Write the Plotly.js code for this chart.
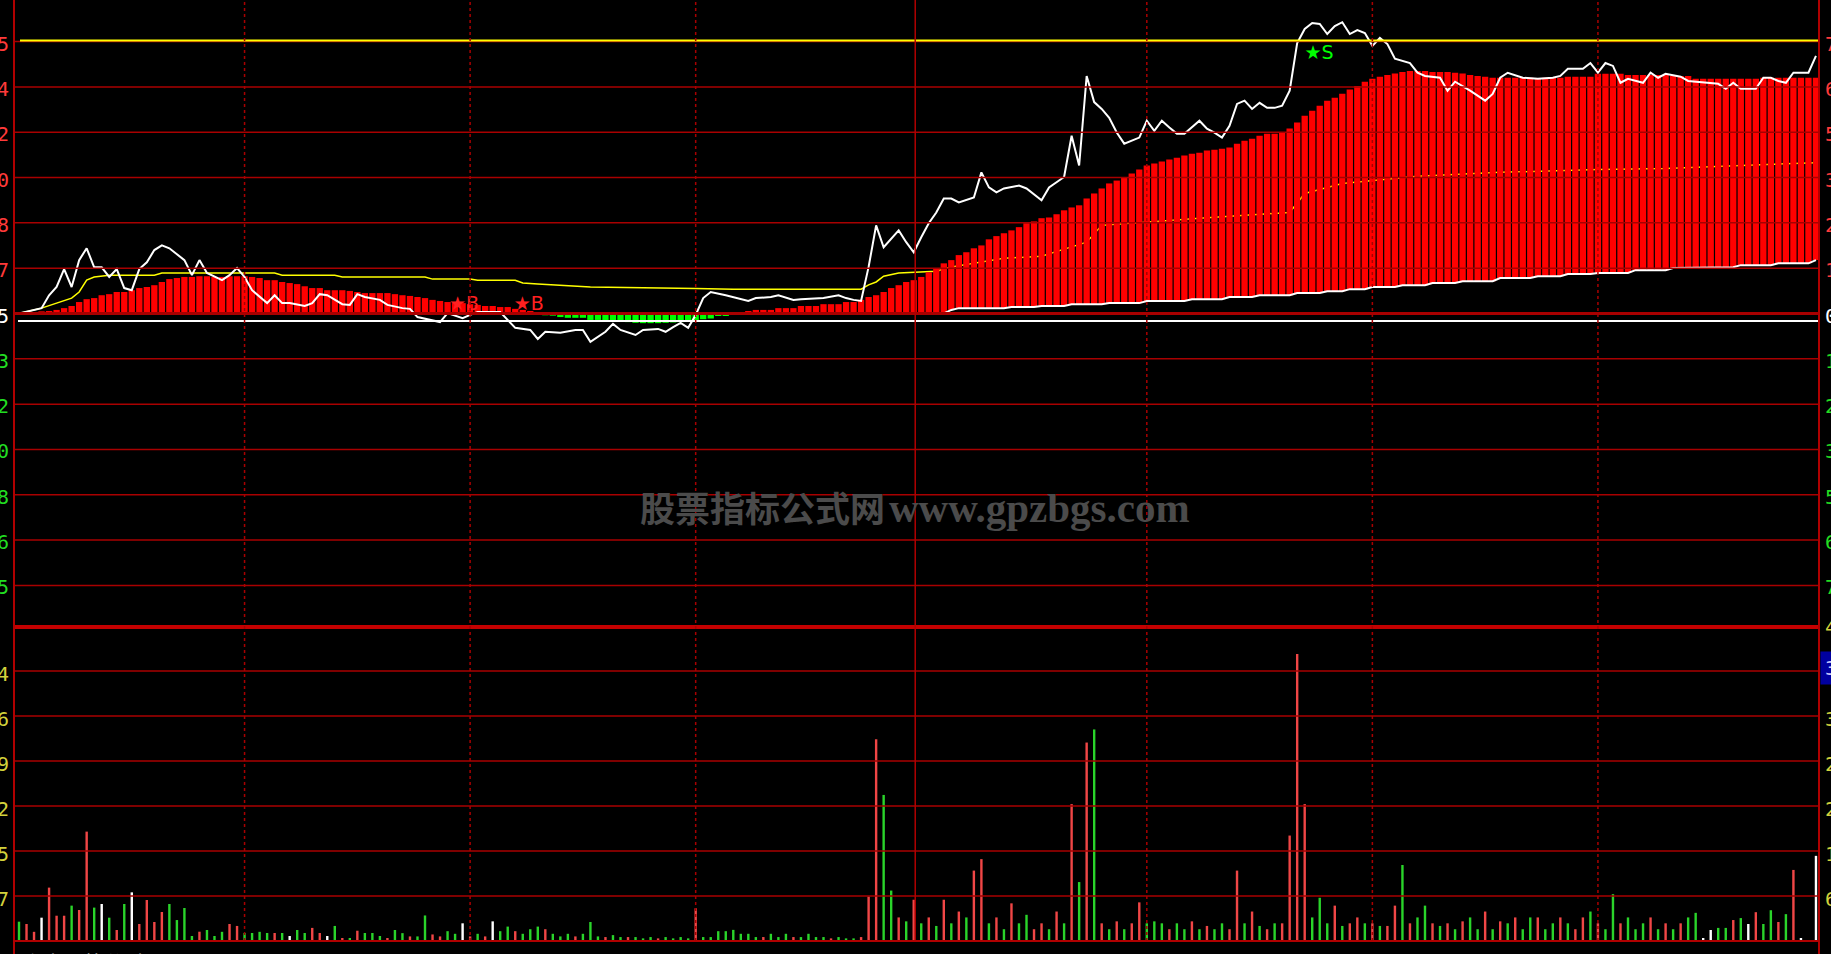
<!DOCTYPE html>
<html><head><meta charset="utf-8">
<script src="https://cdn.plot.ly/plotly-3.0.1.min.js"></script>
<style>html,body{margin:0;padding:0;background:#000;overflow:hidden}#chart{width:1831px;height:954px}</style>
</head><body><div id="chart"></div>
<script>
// ---------- data (percent change vs previous close 9.25; minute index 0..239) ----------
const priceMinutes = [0,2,3,4,5,6,7,8,9,10,11,12,13,14,15,16,17,18,19,20,22,23,24,25,27,28,29,30,31,33,34,35,36,38,39,40,41,43,44,45,46,48,49,51,52,53,56,57,59,60,61,64,66,68,69,70,72,74,75,76,78,79,80,82,83,85,86,87,88,89,90,91,92,94,95,97,98,100,101,103,104,107,109,110,111,112,113,114,115,116,117,118,119,120,121,122,123,124,125,127,128,129,130,131,133,134,136,137,138,139,140,141,142,143,144,145,146,147,149,150,151,152,153,154,155,156,157,158,159,160,161,162,163,164,165,166,167,168,169,170,171,172,173,174,175,176,177,178,179,180,181,182,183,185,186,187,189,190,191,193,195,196,197,198,200,202,204,205,206,208,209,210,211,212,213,214,216,217,218,219,221,222,224,226,227,228,229,231,232,233,234,235,236,238,239];
const pricePct = [0.00,0.10,0.15,0.51,0.74,1.24,0.74,1.49,1.82,1.29,1.29,1.02,1.24,0.71,0.65,1.24,1.43,1.77,1.90,1.82,1.49,1.07,1.49,1.13,0.93,1.07,1.27,1.02,0.65,0.29,0.51,0.29,0.29,0.21,0.29,0.54,0.51,0.26,0.24,0.54,0.46,0.38,0.24,0.15,0.13,-0.10,-0.24,0.01,-0.13,-0.04,0.04,0.04,-0.40,-0.46,-0.71,-0.51,-0.54,-0.46,-0.46,-0.79,-0.51,-0.29,-0.46,-0.60,-0.46,-0.43,-0.51,-0.38,-0.26,-0.40,-0.04,0.43,0.60,0.51,0.46,0.35,0.43,0.46,0.51,0.38,0.40,0.43,0.51,0.43,0.38,0.35,1.30,2.46,1.85,2.10,2.32,1.99,1.71,2.13,2.52,2.82,3.21,3.21,3.10,3.24,3.94,3.52,3.38,3.49,3.57,3.49,3.16,3.52,3.67,3.81,4.96,4.13,6.63,5.90,5.71,5.46,5.05,4.74,4.91,5.38,5.10,5.38,5.19,5.02,5.02,5.19,5.38,5.16,5.05,4.91,5.24,5.85,5.94,5.71,5.88,5.74,5.74,5.80,6.22,7.55,7.94,8.11,8.08,7.80,8.02,8.13,7.80,7.91,7.83,7.47,7.69,7.52,7.11,6.99,6.72,6.63,6.58,6.22,6.47,6.22,5.94,6.13,6.58,6.72,6.58,6.55,6.58,6.63,6.83,6.83,6.99,6.72,6.99,6.91,6.44,6.55,6.44,6.72,6.58,6.69,6.61,6.49,6.44,6.41,6.27,6.44,6.27,6.27,6.58,6.58,6.49,6.44,6.72,6.72,7.19];

const avgMinutes = [0,3,5,7,8,9,10,12,18,19,34,35,42,43,54,55,60,61,66,67,69,76,90,95,112,113,114,115,117,122,124,127,131,136,140,142,144,157,169,170,171,176,186,197,210,219,230,239];
const avgPct = [0.00,0.15,0.29,0.43,0.60,0.93,1.02,1.07,1.07,1.13,1.13,1.07,1.07,1.02,1.02,0.96,0.96,0.93,0.93,0.85,0.82,0.74,0.70,0.68,0.68,0.80,0.88,1.04,1.13,1.18,1.30,1.41,1.54,1.60,1.85,1.99,2.46,2.66,2.82,3.10,3.35,3.63,3.83,3.94,4.02,4.05,4.13,4.21];

const barTop = [
 0.00,0.04,0.04,0.06,0.07,0.10,0.15,0.21,0.32,0.40,
 0.43,0.51,0.54,0.60,0.60,0.65,0.71,0.74,0.79,0.88,
 0.96,0.99,1.02,1.02,1.04,1.04,1.02,1.02,1.04,1.04,
 1.04,1.02,0.99,0.93,0.93,0.88,0.85,0.82,0.76,0.71,
 0.71,0.65,0.65,0.65,0.63,0.60,0.57,0.57,0.57,0.57,
 0.54,0.51,0.49,0.46,0.43,0.38,0.35,0.32,0.29,0.29,
 0.26,0.24,0.21,0.21,0.18,0.18,0.13,0.10,0.07,0.04,
 -0.05,-0.06,-0.10,-0.12,-0.12,-0.12,-0.18,-0.18,-0.20,-0.22,
 -0.22,-0.24,-0.26,-0.27,-0.27,-0.27,-0.26,-0.25,-0.24,-0.22,
 -0.18,-0.16,-0.14,-0.07,-0.07,-0.02,-0.02,0.07,0.10,0.10,
 0.10,0.15,0.15,0.15,0.21,0.21,0.21,0.26,0.26,0.26,
 0.32,0.32,0.38,0.46,0.51,0.60,0.71,0.79,0.88,0.93,
 1.02,1.15,1.27,1.40,1.49,1.63,1.71,1.82,1.90,2.07,
 2.16,2.24,2.32,2.41,2.52,2.57,2.66,2.68,2.77,2.88,
 2.96,3.02,3.21,3.35,3.49,3.63,3.71,3.80,3.91,4.02,
 4.13,4.19,4.24,4.30,4.35,4.41,4.46,4.49,4.55,4.57,
 4.60,4.63,4.74,4.82,4.88,4.96,5.02,5.02,5.05,5.16,
 5.33,5.52,5.66,5.80,5.94,6.02,6.13,6.25,6.35,6.47,
 6.55,6.61,6.66,6.70,6.74,6.77,6.77,6.77,6.74,6.74,
 6.74,6.72,6.70,6.66,6.63,6.61,6.58,6.58,6.58,6.58,
 6.58,6.58,6.55,6.58,6.58,6.58,6.61,6.61,6.61,6.61,
 6.69,6.69,6.69,6.69,6.66,6.66,6.66,6.66,6.66,6.66,
 6.63,6.63,6.63,6.55,6.55,6.55,6.55,6.55,6.55,6.55,
 6.55,6.55,6.58,6.58,6.58,6.58,6.58,6.58,6.58,6.58];

const barBase = [
 0,0,0,0,0,0,0,0,0,0, 0,0,0,0,0,0,0,0,0,0,
 0,0,0,0,0,0,0,0,0,0, 0,0,0,0,0,0,0,0,0,0,
 0,0,0,0,0,0,0,0,0,0, 0,0,0,0,0,0,0,0,0,0,
 0,0,0,0,0,0,0,0,0,0, 0,0,0,0,0,0,0,0,0,0,
 0,0,0,0,0,0,0,0,0,0, 0,0,0,0,0,0,0,0,0,0,
 0,0,0,0,0,0,0,0,0,0, 0,0,0,0,0,0,0,0,0,0,
 0,0,0,0,0.10,0.15,0.15,0.15,0.15,0.15,
 0.15,0.15,0.18,0.18,0.18,0.18,0.21,0.21,0.21,0.21,
 0.26,0.26,0.26,0.26,0.26,0.29,0.29,0.29,0.29,0.29,
 0.35,0.35,0.35,0.35,0.35,0.35,0.40,0.40,0.40,0.40,
 0.40,0.46,0.46,0.46,0.46,0.51,0.51,0.51,0.51,0.51,
 0.57,0.57,0.57,0.57,0.62,0.62,0.62,0.68,0.68,0.68,
 0.74,0.74,0.74,0.74,0.79,0.79,0.79,0.79,0.85,0.85,
 0.85,0.85,0.90,0.90,0.90,0.90,0.90,0.99,0.99,0.99,
 0.99,0.99,1.04,1.04,1.04,1.04,1.10,1.10,1.10,1.10,
 1.13,1.13,1.13,1.13,1.13,1.21,1.21,1.21,1.21,1.21,
 1.27,1.27,1.27,1.27,1.29,1.29,1.29,1.29,1.29,1.35,
 1.35,1.35,1.35,1.35,1.40,1.40,1.40,1.40,1.40,1.49];
const baseLineStart = 112;

const volume = [
 295,260,140,356,815,386,386,540,473,1670,
 510,565,356,168,565,743,260,626,290,443,
 565,320,504,76,142,168,76,140,260,230,
 122,122,140,122,122,122,76,168,122,200,
 122,76,230,46,46,157,122,122,76,46,
 168,120,70,70,390,100,70,150,110,270,
 70,110,70,300,150,220,150,110,180,220,
 180,110,70,110,70,110,290,70,60,90,
 60,60,60,40,60,40,60,40,60,40,
 500,60,60,150,150,170,110,110,60,60,
 110,60,110,60,60,110,60,60,40,60,
 40,40,60,680,3080,2230,770,360,300,630,
 270,360,230,630,270,450,360,1075,1250,270,
 360,180,575,270,400,180,270,180,450,270,
 2090,900,3030,3230,270,180,300,180,270,590,
 270,300,270,180,270,180,300,180,230,180,
 270,180,1075,270,450,230,180,270,270,1610,
 4380,2090,360,660,270,540,230,270,360,270,
 270,230,230,540,1160,270,360,540,270,230,
 270,180,300,360,180,450,180,300,270,360,
 180,360,360,180,270,360,270,180,360,450,
 270,180,715,270,360,180,270,360,180,270,
 180,270,360,430,46,168,200,200,320,350,
 260,440,260,470,290,410,1085,46,0,1300];
// r = up minute, g = down minute, w = unchanged
const volumeSide = [
 "grrwrrrgrr","gwgrgwrrrr","ggggrgggrr","ggggrgwggr","rwgrgrgggr",
 "ggrggrrggw","rgrwggrggg","rgggrgggrg","grgggrgggg","rggggggggr",
 "gggrggggrg","ggrrrggrgr","grgrgrgrrg","rgrggrrgrg","rgrgrgrgrr",
 "gggrggrgrg","grrgrgrgrr","rrgggrgrrg","rgrrgrggrg","rgrggrgrgr",
 "ggrggrgrrg","rggrgggrgr","grggwwggrg","wrggrgrwww"].join("").split("");

const signalMinutes = [59.2, 67.8, 172.9];
const signalPct = [0.24, 0.24, 7.23];
const signalText = ["★B", "★B", "★S"];

// axis / label tables
const pctStep = 1.265;
const gridSteps = [6,5,4,3,2,1,0,-1,-2,-3,-4,-5,-6];
const leftPriceLabels = ["9.95","9.84","9.72","9.60","9.48","9.37","9.25","9.13","9.02","8.90","8.78","8.66","8.55"];
const rightPctLabels = ["7.59%","6.32%","5.06%","3.79%","2.53%","1.26%","0.00%","1.26%","2.53%","3.79%","5.06%","6.32%","7.59%"];
const topRightLabel = "8.85%";
const highLinePct = 7.62;
const fixedWhitePct = -0.21;
const volGrid = [4124,3436,2749,2062,1375,687];
const volLeftLabels = ["4124","3436","2749","2062","1375","687"];
const volRightLabels = ["","3436","2749","2062","1375","687"];
const volTopRightLabel = "4810";
const volCursorLabel = "3086";
const timeGrid = [30,60,90,150,180,210];
const middayGrid = 119.2;
const watermarkCn = "股票指标公式网";
const watermarkEn = "www.gpzbgs.com";
const footerText = "主力明箭分时";

// ---------- geometry helpers ----------
const W = 1831, H = 954;
const px = v => v / W, py = v => 1 - v / H;
const minutes = barTop.map((_, i) => i);

const RED = "#ff0000", GREEN = "#00ff00";
const GRID = "#a80000";
const volColors = {r: "#f04646", g: "#2ad42a", w: "#ffffff"};

const traces = [
  {x: avgMinutes, y: avgPct, type: "scatter", mode: "lines", yaxis: "y",
   line: {color: "#ffff00", width: 1.5}, hoverinfo: "skip"},
  {x: minutes, y: barTop.map((t, i) => t - barBase[i]), base: barBase, type: "bar", yaxis: "y3",
   width: 0.84, marker: {color: barTop.map(t => t >= 0 ? RED : GREEN), line: {width: 0}}, hoverinfo: "skip"},
  {x: minutes.slice(baseLineStart), y: barBase.slice(baseLineStart), type: "scatter", mode: "lines", yaxis: "y3",
   line: {color: "#ffffff", width: 2}, hoverinfo: "skip"},
  {x: priceMinutes, y: pricePct, type: "scatter", mode: "lines", yaxis: "y3",
   line: {color: "#ffffff", width: 2}, hoverinfo: "skip"},
  {x: signalMinutes, y: signalPct, text: signalText, type: "scatter", mode: "text", yaxis: "y3",
   textposition: "middle center",
   textfont: {family: "DejaVu Sans", size: 19, color: signalText.map(t => t.includes("S") ? "#00ff00" : "#ff2020")},
   hoverinfo: "skip"},
  {x: minutes, y: volume, type: "bar", yaxis: "y2", width: 0.32,
   marker: {color: volumeSide.map(s => volColors[s]), line: {width: 0}}, hoverinfo: "skip"}
];

const shapes = [];
const hline = (yref, y, color, width, x0 = px(14), x1 = px(1818), dash = "solid") =>
  shapes.push({type: "line", xref: "paper", yref, x0, x1, y0: y, y1: y, layer: "above", line: {color, width, dash}});
gridSteps.forEach(k => hline("y", k * pctStep, GRID, k === 0 ? 3 : 1.5));
hline("y", highLinePct, "#ffff00", 2, px(20));
hline("y", fixedWhitePct, "#ffffff", 2, px(18));
volGrid.forEach(v => hline("y2", v, GRID, 1.5));
hline("paper", py(627), "#c40000", 4);
hline("paper", py(941), "#b00000", 2);
[14, 1819].forEach(xp => shapes.push({type: "line", xref: "paper", yref: "paper", x0: px(xp), x1: px(xp), y0: 0, y1: 1,
  layer: "above", line: {color: "#b00000", width: 2}}));
timeGrid.forEach(t => shapes.push({type: "line", xref: "x", yref: "paper", x0: t, x1: t, y0: py(941), y1: 1,
  layer: "above", line: {color: GRID, width: 1.5, dash: "dot"}}));
shapes.push({type: "line", xref: "x", yref: "paper", x0: middayGrid, x1: middayGrid, y0: py(941), y1: 1,
  layer: "above", line: {color: "#b00000", width: 1.5}});

const ann = [];
const labFont = (color) => ({family: "DejaVu Sans Mono", size: 20, color});
const sideColor = k => k > 0 ? "#ff3a3a" : (k < 0 ? "#22dd22" : "#ffffff");
gridSteps.forEach((k, i) => {
  ann.push({xref: "paper", yref: "y", x: px(11), y: k * pctStep, xanchor: "right", yanchor: "middle", yshift: -2,
    text: leftPriceLabels[i], showarrow: false, font: labFont(sideColor(k))});
  ann.push({xref: "paper", yref: "y", x: px(1823), y: k * pctStep, xanchor: "left", yanchor: "middle", yshift: -2,
    text: rightPctLabels[i], showarrow: false, font: labFont(sideColor(k))});
});
ann.push({xref: "paper", yref: "y", x: px(1823), y: 7 * pctStep, xanchor: "left", yanchor: "middle", yshift: -2,
  text: topRightLabel, showarrow: false, font: labFont("#ff3a3a")});
const VOLC = "#d2d23c";
volGrid.forEach((v, i) => {
  ann.push({xref: "paper", yref: "y2", x: px(11), y: v, xanchor: "right", yanchor: "middle", yshift: -3,
    text: volLeftLabels[i], showarrow: false, font: labFont(VOLC)});
  if (volRightLabels[i]) ann.push({xref: "paper", yref: "y2", x: px(1823), y: v, xanchor: "left", yanchor: "middle", yshift: -3,
    text: volRightLabels[i], showarrow: false, font: labFont(VOLC)});
});
ann.push({xref: "paper", yref: "paper", x: px(1823), y: py(627), xanchor: "left", yanchor: "middle",
  text: volTopRightLabel, showarrow: false, font: labFont(VOLC)});
ann.push({xref: "paper", yref: "paper", x: px(1820), y: py(668), xanchor: "left", yanchor: "middle",
  text: volCursorLabel, showarrow: false, bgcolor: "#0000a0", borderpad: 4, font: labFont("#c8c8ff")});
ann.push({xref: "paper", yref: "paper", x: px(887), y: py(506), xanchor: "right", yanchor: "middle",
  text: "<b>" + watermarkCn + "</b>", showarrow: false, font: {family: "Noto Sans CJK SC", size: 35, color: "#4b4b4b"}});
ann.push({xref: "paper", yref: "paper", x: px(887), y: py(508), xanchor: "left", yanchor: "middle",
  text: "<b>" + watermarkEn + "</b>", showarrow: false, font: {family: "Liberation Serif", size: 41, color: "#4b4b4b"}});
ann.push({xref: "paper", yref: "paper", x: px(22), y: py(946), xanchor: "left", yanchor: "top",
  text: footerText, showarrow: false, font: {family: "Noto Sans CJK SC", size: 20, color: "#c8c8c8"}});

const hidden = {showgrid: false, zeroline: false, showline: false, showticklabels: false, ticks: "", fixedrange: true};
const layout = {
  width: W, height: H, margin: {l: 0, r: 0, t: 0, b: 0, pad: 0},
  paper_bgcolor: "#000000", plot_bgcolor: "#000000", showlegend: false, barmode: "overlay",
  xaxis: Object.assign({domain: [px(14), px(1818)], range: [-0.665, 239.27]}, hidden),
  yaxis: Object.assign({domain: [py(627), 1], range: [-8.75, 8.75]}, hidden),
  yaxis3: Object.assign({overlaying: "y", range: [-8.75, 8.75]}, hidden),
  yaxis2: Object.assign({domain: [py(941), py(627)], range: [0, 4794], anchor: "x"}, hidden),
  shapes, annotations: ann
};
Plotly.newPlot("chart", traces, layout, {staticPlot: true, displayModeBar: false});
</script></body></html>
